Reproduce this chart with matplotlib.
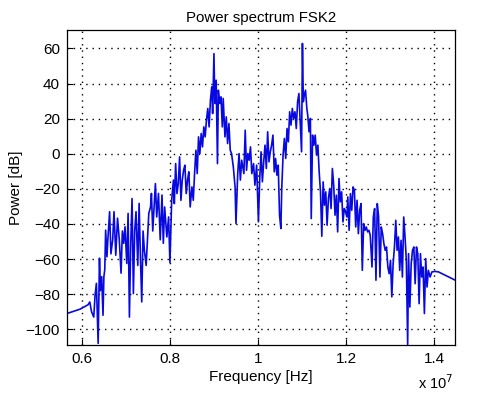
import matplotlib
matplotlib.use("Agg")
import matplotlib.pyplot as plt

plt.rcParams.update({
    "font.family": ["Liberation Sans", "DejaVu Sans"],
    "font.size": 10,
})

# frequency in units of 1e7 Hz, power in dB
freq_low = [0.566, 0.596, 0.607, 0.614, 0.618, 0.622, 0.627, 0.630, 0.633, 0.637,
            0.640, 0.642, 0.645, 0.648, 0.650, 0.652, 0.654, 0.657, 0.659, 0.663,
            0.666, 0.670, 0.673, 0.677, 0.681, 0.685, 0.689, 0.692, 0.695, 0.698,
            0.702, 0.705, 0.708, 0.711, 0.714, 0.717, 0.720, 0.723, 0.727, 0.730,
            0.733, 0.736, 0.739, 0.742, 0.746, 0.750, 0.752, 0.756, 0.758, 0.761,
            0.765, 0.767, 0.770, 0.774, 0.778, 0.782, 0.785, 0.788]
power_low = [-91, -88.5, -87, -86, -84.4, -90, -93, -80.6, -73.8, -108,
             -59.5, -78, -70, -92, -70, -66, -43.5, -58.7, -49, -33,
             -57, -49, -33, -57.8, -36.7, -49, -68, -44, -51, -41.6,
             -62.5, -34, -93, -51, -25.5, -79.6, -44, -33, -63.6, -28.3,
             -58.7, -84.4, -44, -55, -63.6, -44, -34, -30.3, -22.6, -44,
             -26.4, -17, -36, -22.6, -49, -23.5, -51, -30.3]

freq_peak1 = [0.793, 0.797, 0.800, 0.804, 0.808, 0.810, 0.813, 0.816, 0.819, 0.822,
              0.825, 0.828, 0.831, 0.834, 0.837, 0.840, 0.843, 0.846, 0.850, 0.853,
              0.856, 0.859, 0.862, 0.865, 0.868, 0.871, 0.874, 0.877, 0.880, 0.883,
              0.886, 0.889, 0.892, 0.895, 0.897, 0.900, 0.902, 0.905, 0.908, 0.910,
              0.913, 0.916, 0.919, 0.921, 0.925, 0.928, 0.931, 0.934, 0.937, 0.940,
              0.944, 0.948, 0.950, 0.954, 0.957, 0.960, 0.963, 0.968, 0.971, 0.974,
              0.977, 0.980, 0.983, 0.986, 0.990]
power_peak1 = [-47.4, -36, -62, -26.5, -15, -28.4, -5.6, -22.7, -17, -1.8,
               -26.5, -15, -9.4, -6.5, -22.7, -15, -10.3, -30.3, -18.9, -26.5,
               -11.3, 2, -11.3, 9.6, 0.1, 11.5, 3.9, 15.3, 9.6, 19.1,
               25.8, 15.3, 30.5, 38.1, 22.9, 57, 28.6, 41.9, -5.6, 36.2,
               28.6, 32.4, 15.3, 31.5, 9.6, 21, 5.8, 17.2, 2, 0.1,
               -7.5, -18.9, -39.8, -11.3, 0.1, -15, -3.7, -11.3, 13.4, -9.4,
               0.1, -3.7, 3.9, -11.3, -5.6]

freq_peak2 = [0.993, 0.997, 1.001, 1.004, 1.007, 1.010, 1.013, 1.016, 1.019, 1.022,
              1.025, 1.028, 1.031, 1.034, 1.037, 1.040, 1.043, 1.046, 1.049, 1.052,
              1.054, 1.057, 1.060, 1.063, 1.066, 1.069, 1.072, 1.075, 1.078, 1.081,
              1.084, 1.087, 1.090, 1.093, 1.096, 1.099, 1.101, 1.103, 1.105, 1.108,
              1.111, 1.113, 1.116, 1.119, 1.121, 1.124, 1.127, 1.130, 1.133, 1.136,
              1.139, 1.142, 1.145, 1.148, 1.151, 1.154, 1.157, 1.160, 1.163, 1.166,
              1.169, 1.172, 1.175, 1.178, 1.181, 1.184, 1.187, 1.190, 1.193, 1.196]
power_peak2 = [-17.9, -6.5, -38.8, -14.1, 1.1, -16, -4.6, 4.9, -8.4, 12.5,
               -4.6, 1.1, 4.9, 10.6, -10.3, -2.7, -12.2, -6.5, -35, -42.6,
               -19.8, -0.8, 8.7, -2.7, 14.4, 6.8, 23.9, 16.3, 25.8, 20.1,
               23.9, 14.4, 29.6, 34.3, 18.2, 1.1, 62.8, 29.6, 33.4, 36.2,
               25.8, 22, 12.5, 20.1, -36.9, 10.6, 4.9, 10.6, -0.8, 4.9,
               -10.3, -21.7, -47, -16, -29.3, -21.7, -40.7, -25.5, -19.8, -31.2,
               -8.4, -17.9, -35, -23.6, -44.5, -14.1, -27.4, -21.7, -38.8, -31.2]

freq_high = [1.198, 1.202, 1.204, 1.207, 1.210, 1.213, 1.216, 1.219, 1.222, 1.225,
             1.228, 1.231, 1.234, 1.237, 1.240, 1.243, 1.246, 1.249, 1.252, 1.255,
             1.259, 1.262, 1.265, 1.268, 1.271, 1.274, 1.277, 1.280, 1.283, 1.286,
             1.289, 1.292, 1.295, 1.298, 1.301, 1.304, 1.307, 1.310, 1.313, 1.316,
             1.319, 1.322, 1.325, 1.328, 1.331, 1.334, 1.337, 1.340, 1.342, 1.345,
             1.348, 1.351, 1.354, 1.357, 1.360, 1.363, 1.366, 1.369, 1.372, 1.375,
             1.378, 1.381, 1.384, 1.387, 1.391, 1.395, 1.402, 1.410, 1.418, 1.425,
             1.433, 1.440, 1.448]
power_high = [-32.2, -36, -24.6, -43.6, -22.7, -32.2, -18.9, -20.8, -41.7, -26.5,
              -45.5, -32.2, -28.4, -66.4, -39.8, -43.6, -41.7, -44.5, -43.6, -46.4,
              -64.5, -36, -31.2, -72, -28.4, -36, -70.2, -41.7, -45.5, -51.2,
              -55, -53.1, -64.5, -68.3, -60.7, -81.5, -62.6, -53.1, -37.9, -55,
              -47.4, -66.4, -49.3, -70.2, -36, -47.4, -60.7, -109, -56.9, -87.3,
              -62.6, -55, -53.1, -74, -53.1, -56.9, -85.4, -56.9, -70.2, -64.5,
              -91, -59.7, -75.9, -66.4, -70.2, -67.3, -67, -67.3, -68.3, -69.2,
              -70.2, -71, -72]

freq = freq_low + freq_peak1 + freq_peak2 + freq_high
power = power_low + power_peak1 + power_peak2 + power_high

x_ticks = [0.6, 0.8, 1.0, 1.2, 1.4]
x_ticklabels = ["0.6", "0.8", "1", "1.2", "1.4"]
y_ticks = [-100, -80, -60, -40, -20, 0, 20, 40, 60]

fig = plt.figure(figsize=(5.03, 3.94), dpi=100)
ax = fig.add_axes([0.133, 0.124, 0.772, 0.80])

ax.plot(freq, power, color="#0808e0", lw=1.2)

ax.set_xlim(0.566, 1.448)
ax.set_ylim(-109, 70.5)
ax.set_xticks(x_ticks)
ax.set_xticklabels(x_ticklabels)
ax.set_yticks(y_ticks)
ax.tick_params(direction="in", length=4, width=0.8, labelsize=11, pad=5)
ax.grid(True, color="black", linestyle=(0, (1, 3.5)), linewidth=1.0)
for sp in ax.spines.values():
    sp.set_linewidth(0.9)

ax.set_title("Power spectrum FSK2", fontsize=10.8, pad=6)
ax.set_xlabel("Frequency [Hz]", fontsize=11, labelpad=3)
ax.set_ylabel("Power [dB]", fontsize=11, labelpad=2)
fig.text(0.832, 0.012, "x 10$^7$", fontsize=10.5)

fig.savefig("out.png", dpi=100)
plt.close(fig)
